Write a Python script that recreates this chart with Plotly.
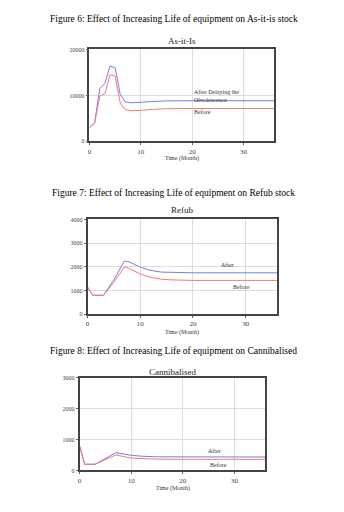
import plotly.graph_objects as go

W, H = 344, 512

# ---- data ----
t1 = [0, 1, 2, 3, 4, 5, 6, 7, 8, 9, 10, 12, 15, 20, 25, 30, 36]
asis_after = [3000, 4000, 11500, 12600, 16400, 16000, 10200, 8600, 8400, 8400, 8500, 8650, 8800, 8850, 8850, 8850, 8850]
asis_before = [3000, 4000, 9800, 10400, 14500, 14200, 8300, 6900, 6650, 6650, 6750, 6950, 7100, 7150, 7150, 7150, 7150]

t2 = [0, 1, 3, 5, 7, 8, 10, 12, 14, 16, 20, 36]
refub_after = [1150, 800, 800, 1450, 2250, 2200, 1990, 1850, 1780, 1760, 1750, 1750]
refub_before = [1150, 800, 800, 1350, 2000, 1920, 1700, 1560, 1480, 1450, 1430, 1430]

t3 = [0, 1, 3, 5, 7, 10, 12, 15, 20, 36]
cann_after = [800, 200, 200, 380, 570, 490, 460, 440, 435, 435]
cann_before = [800, 200, 200, 340, 500, 400, 380, 365, 360, 360]

captions = ["Figure 6: Effect of Increasing Life of equipment on As-it-is stock",
            "Figure 7: Effect of Increasing Life of equipment on Refub stock",
            "Figure 8: Effect of Increasing Life of equipment on Cannibalised"]
titles = ["As-it-Is", "Refub", "Cannibalised"]
x_ticks = [0, 10, 20, 30]

BLUE = "#7b7bea"
RED = "#f07a7a"
FONT = "Liberation Serif"

def px_x(p):
    return p / W

def px_y(p):
    return 1 - p / H

# plot boxes in pixels: (left, right, top, bottom)
boxes = [(88, 274, 47, 140), (86, 277, 219, 315), (78, 265, 379, 473)]
yranges = [(0, 20000, 10000), (0, 4000, 1000), (0, 3000, 1000)]
series = [(t1, asis_after, asis_before), (t2, refub_after, refub_before), (t3, cann_after, cann_before)]

fig = go.Figure()
layout = dict(width=W, height=H, margin=dict(l=0, r=0, t=0, b=0),
              paper_bgcolor="white", plot_bgcolor="white", showlegend=False)

for i, ((l, r, tp, bt), (y0, y1, dy), (tt, a, b)) in enumerate(zip(boxes, yranges, series)):
    n = "" if i == 0 else str(i + 1)
    xa, ya = "x" + n, "y" + n
    fig.add_trace(go.Scatter(x=tt, y=a, mode="lines", line=dict(color=BLUE, width=1),
                             xaxis=xa, yaxis=ya))
    fig.add_trace(go.Scatter(x=tt, y=b, mode="lines", line=dict(color=RED, width=1),
                             xaxis=xa, yaxis=ya))
    layout["xaxis" + n] = dict(domain=[px_x(l), px_x(r)], range=[0, 36], anchor=ya,
                               tickvals=x_ticks, showgrid=True, gridcolor="#dddddd",
                               showline=True, mirror=True, linecolor="#444444", linewidth=1.5,
                               ticks="outside", ticklen=2, tickcolor="#666666",
                               tickfont=dict(family=FONT, size=7, color="#444444"),
                               zeroline=False, fixedrange=True)
    layout["yaxis" + n] = dict(domain=[px_y(bt), px_y(tp)], range=[y0, y1], anchor=xa,
                               dtick=dy, tickformat="d", showgrid=True, gridcolor="#dddddd",
                               showline=True, mirror=True, linecolor="#444444", linewidth=1.5,
                               ticks="outside", ticklen=2, tickcolor="#666666",
                               tickfont=dict(family=FONT, size=6, color="#444444"),
                               zeroline=False, fixedrange=True)

ann = []
cap_y = [16, 192, 352]
title_y = [38, 209, 373]
xlab_y = [157, 333, 491]
for i in range(3):
    l, r, tp, bt = boxes[i]
    ann.append(dict(text=captions[i], x=px_x(173), y=px_y(cap_y[i]), xref="paper", yref="paper",
                    showarrow=False, font=dict(family=FONT, size=9.5, color="black"),
                    xanchor="center", yanchor="middle"))
    ann.append(dict(text=titles[i], x=px_x((l + r) / 2), y=px_y(title_y[i]), xref="paper", yref="paper",
                    showarrow=False, font=dict(family=FONT, size=9, color="#222222"),
                    xanchor="center", yanchor="middle"))
    ann.append(dict(text="Time (Month)", x=px_x((l + r) / 2), y=px_y(xlab_y[i]), xref="paper", yref="paper",
                    showarrow=False, font=dict(family=FONT, size=6, color="#333333"),
                    xanchor="center", yanchor="middle"))

labels = [("After Delaying the<br>Obsolescence", 191, 94.5, "left"),
          ("Before", 191, 110, "left"),
          ("After", 227, 265, "center"),
          ("Before", 241, 287, "center"),
          ("After", 214, 453, "center"),
          ("Before", 218, 467, "center")]
for txt, x, y, anc in labels:
    ann.append(dict(text=txt, x=px_x(x), y=px_y(y), xref="paper", yref="paper", showarrow=False,
                    font=dict(family=FONT, size=6, color="#333333"), xanchor=anc, yanchor="middle",
                    align="left"))

layout["annotations"] = ann
fig.update_layout(**layout)
fig.write_html("out.html")
